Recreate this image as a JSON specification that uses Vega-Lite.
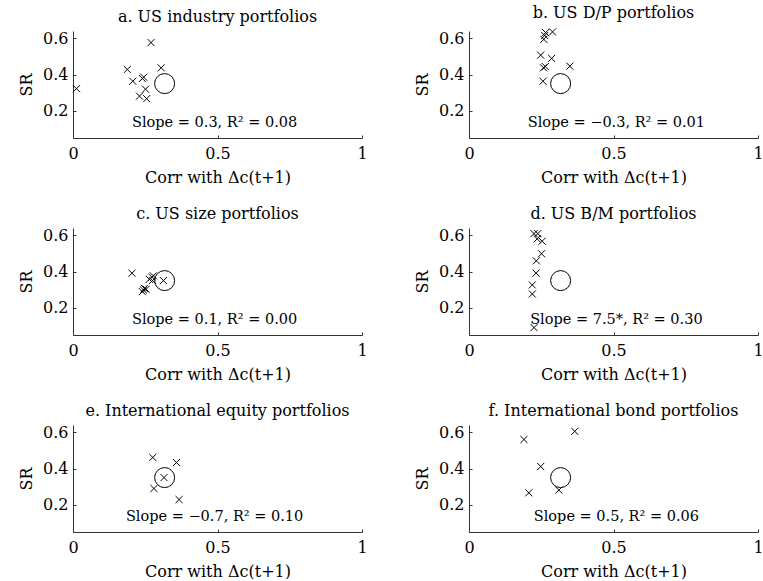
{
  "$schema": "https://vega.github.io/schema/vega-lite/v6.json",
  "background": "white",
  "padding": {"left": 18, "top": 5, "right": 0, "bottom": 0},
  "spacing": 21,
  "datasets": {
    "pts": [
      {"panel": "a", "corr": 0.012, "sr": 0.322},
      {"panel": "a", "corr": 0.270, "sr": 0.576},
      {"panel": "a", "corr": 0.188, "sr": 0.428},
      {"panel": "a", "corr": 0.207, "sr": 0.363},
      {"panel": "a", "corr": 0.240, "sr": 0.378},
      {"panel": "a", "corr": 0.245, "sr": 0.385},
      {"panel": "a", "corr": 0.305, "sr": 0.437},
      {"panel": "a", "corr": 0.251, "sr": 0.319},
      {"panel": "a", "corr": 0.230, "sr": 0.281},
      {"panel": "a", "corr": 0.255, "sr": 0.267},
      {"panel": "b", "corr": 0.265, "sr": 0.631},
      {"panel": "b", "corr": 0.289, "sr": 0.635},
      {"panel": "b", "corr": 0.262, "sr": 0.615},
      {"panel": "b", "corr": 0.259, "sr": 0.594},
      {"panel": "b", "corr": 0.248, "sr": 0.507},
      {"panel": "b", "corr": 0.286, "sr": 0.489},
      {"panel": "b", "corr": 0.258, "sr": 0.437},
      {"panel": "b", "corr": 0.264, "sr": 0.444},
      {"panel": "b", "corr": 0.349, "sr": 0.446},
      {"panel": "b", "corr": 0.256, "sr": 0.363},
      {"panel": "c", "corr": 0.204, "sr": 0.391},
      {"panel": "c", "corr": 0.240, "sr": 0.289},
      {"panel": "c", "corr": 0.244, "sr": 0.298},
      {"panel": "c", "corr": 0.247, "sr": 0.307},
      {"panel": "c", "corr": 0.253, "sr": 0.302},
      {"panel": "c", "corr": 0.264, "sr": 0.357},
      {"panel": "c", "corr": 0.273, "sr": 0.369},
      {"panel": "c", "corr": 0.278, "sr": 0.376},
      {"panel": "c", "corr": 0.275, "sr": 0.350},
      {"panel": "c", "corr": 0.313, "sr": 0.350},
      {"panel": "d", "corr": 0.225, "sr": 0.609},
      {"panel": "d", "corr": 0.238, "sr": 0.609},
      {"panel": "d", "corr": 0.236, "sr": 0.580},
      {"panel": "d", "corr": 0.253, "sr": 0.567},
      {"panel": "d", "corr": 0.251, "sr": 0.498},
      {"panel": "d", "corr": 0.233, "sr": 0.459},
      {"panel": "d", "corr": 0.232, "sr": 0.391},
      {"panel": "d", "corr": 0.219, "sr": 0.326},
      {"panel": "d", "corr": 0.219, "sr": 0.276},
      {"panel": "d", "corr": 0.225, "sr": 0.091},
      {"panel": "e", "corr": 0.276, "sr": 0.461},
      {"panel": "e", "corr": 0.358, "sr": 0.433},
      {"panel": "e", "corr": 0.315, "sr": 0.350},
      {"panel": "e", "corr": 0.280, "sr": 0.290},
      {"panel": "e", "corr": 0.367, "sr": 0.229},
      {"panel": "f", "corr": 0.190, "sr": 0.560},
      {"panel": "f", "corr": 0.366, "sr": 0.605},
      {"panel": "f", "corr": 0.248, "sr": 0.411},
      {"panel": "f", "corr": 0.207, "sr": 0.266},
      {"panel": "f", "corr": 0.311, "sr": 0.281}
    ],
    "mkt": [
      {"panel": "a", "corr": 0.317, "sr": 0.35},
      {"panel": "b", "corr": 0.317, "sr": 0.35},
      {"panel": "c", "corr": 0.317, "sr": 0.35},
      {"panel": "d", "corr": 0.317, "sr": 0.35},
      {"panel": "e", "corr": 0.317, "sr": 0.35},
      {"panel": "f", "corr": 0.317, "sr": 0.35}
    ],
    "ann": [
      {"panel": "a", "corr": 0.49, "sr": 0.13, "label": "Slope = 0.3, R² = 0.08"},
      {"panel": "b", "corr": 0.51, "sr": 0.13, "label": "Slope = −0.3, R² = 0.01"},
      {"panel": "c", "corr": 0.49, "sr": 0.13, "label": "Slope = 0.1, R² = 0.00"},
      {"panel": "d", "corr": 0.51, "sr": 0.13, "label": "Slope = 7.5*, R² = 0.30"},
      {"panel": "e", "corr": 0.49, "sr": 0.13, "label": "Slope = −0.7, R² = 0.10"},
      {"panel": "f", "corr": 0.51, "sr": 0.13, "label": "Slope = 0.5, R² = 0.06"}
    ]
  },
  "config": {
    "view": {"stroke": null},
    "font": "DejaVu Serif",
    "title": {"font": "DejaVu Serif", "fontSize": 16, "fontWeight": "normal", "color": "black", "offset": 5},
    "axis": {
      "grid": false,
      "domainColor": "#333333",
      "tickColor": "#333333",
      "tickSize": -3,
      "labelFont": "DejaVu Serif",
      "titleFont": "DejaVu Serif",
      "labelFontSize": 16,
      "titleFontSize": 16,
      "titleFontWeight": "normal",
      "labelColor": "black",
      "titleColor": "black",
      "labelFlush": false,
      "labelOverlap": false
    }
  },
  "vconcat": [
    {
      "spacing": 46,
      "hconcat": [
        {
          "title": "a. US industry portfolios", "width": 289, "height": 107,
          "layer": [
            {"data": {"name": "pts"}, "transform": [{"filter": "datum.panel === 'a'"}],
             "mark": {"type": "point", "shape": "M-1,-1L1,1M-1,1L1,-1", "filled": false, "stroke": "black", "strokeWidth": 1, "size": 50, "opacity": 1},
             "encoding": {
               "x": {"field": "corr", "type": "quantitative", "scale": {"domain": [0, 1], "nice": false}, "axis": {"values": [0, 0.5, 1], "format": "~g", "title": "Corr with Δc(t+1)", "labelPadding": 10, "titlePadding": 8}},
               "y": {"field": "sr", "type": "quantitative", "scale": {"domain": [0.05, 0.64], "nice": false, "zero": false}, "axis": {"values": [0.2, 0.4, 0.6], "format": ".1f", "title": "SR", "labelPadding": 8, "titlePadding": 8}}
             }},
            {"data": {"name": "mkt"}, "transform": [{"filter": "datum.panel === 'a'"}],
             "mark": {"type": "point", "shape": "circle", "filled": false, "stroke": "black", "strokeWidth": 1, "size": 400, "opacity": 1},
             "encoding": {"x": {"field": "corr", "type": "quantitative"}, "y": {"field": "sr", "type": "quantitative"}}},
            {"data": {"name": "ann"}, "transform": [{"filter": "datum.panel === 'a'"}],
             "mark": {"type": "text", "font": "DejaVu Serif", "fontSize": 14.5, "color": "black", "align": "center", "baseline": "middle"},
             "encoding": {"x": {"field": "corr", "type": "quantitative"}, "y": {"field": "sr", "type": "quantitative"}, "text": {"field": "label"}}}
          ]
        },
        {
          "title": "b. US D/P portfolios", "width": 289, "height": 107,
          "layer": [
            {"data": {"name": "pts"}, "transform": [{"filter": "datum.panel === 'b'"}],
             "mark": {"type": "point", "shape": "M-1,-1L1,1M-1,1L1,-1", "filled": false, "stroke": "black", "strokeWidth": 1, "size": 50, "opacity": 1},
             "encoding": {
               "x": {"field": "corr", "type": "quantitative", "scale": {"domain": [0, 1], "nice": false}, "axis": {"values": [0, 0.5, 1], "format": "~g", "title": "Corr with Δc(t+1)", "labelPadding": 10, "titlePadding": 8}},
               "y": {"field": "sr", "type": "quantitative", "scale": {"domain": [0.05, 0.64], "nice": false, "zero": false}, "axis": {"values": [0.2, 0.4, 0.6], "format": ".1f", "title": "SR", "labelPadding": 8, "titlePadding": 8}}
             }},
            {"data": {"name": "mkt"}, "transform": [{"filter": "datum.panel === 'b'"}],
             "mark": {"type": "point", "shape": "circle", "filled": false, "stroke": "black", "strokeWidth": 1, "size": 400, "opacity": 1},
             "encoding": {"x": {"field": "corr", "type": "quantitative"}, "y": {"field": "sr", "type": "quantitative"}}},
            {"data": {"name": "ann"}, "transform": [{"filter": "datum.panel === 'b'"}],
             "mark": {"type": "text", "font": "DejaVu Serif", "fontSize": 14.5, "color": "black", "align": "center", "baseline": "middle"},
             "encoding": {"x": {"field": "corr", "type": "quantitative"}, "y": {"field": "sr", "type": "quantitative"}, "text": {"field": "label"}}}
          ]
        }
      ]
    },
    {
      "spacing": 46,
      "hconcat": [
        {
          "title": "c. US size portfolios", "width": 289, "height": 107,
          "layer": [
            {"data": {"name": "pts"}, "transform": [{"filter": "datum.panel === 'c'"}],
             "mark": {"type": "point", "shape": "M-1,-1L1,1M-1,1L1,-1", "filled": false, "stroke": "black", "strokeWidth": 1, "size": 50, "opacity": 1},
             "encoding": {
               "x": {"field": "corr", "type": "quantitative", "scale": {"domain": [0, 1], "nice": false}, "axis": {"values": [0, 0.5, 1], "format": "~g", "title": "Corr with Δc(t+1)", "labelPadding": 10, "titlePadding": 8}},
               "y": {"field": "sr", "type": "quantitative", "scale": {"domain": [0.05, 0.64], "nice": false, "zero": false}, "axis": {"values": [0.2, 0.4, 0.6], "format": ".1f", "title": "SR", "labelPadding": 8, "titlePadding": 8}}
             }},
            {"data": {"name": "mkt"}, "transform": [{"filter": "datum.panel === 'c'"}],
             "mark": {"type": "point", "shape": "circle", "filled": false, "stroke": "black", "strokeWidth": 1, "size": 400, "opacity": 1},
             "encoding": {"x": {"field": "corr", "type": "quantitative"}, "y": {"field": "sr", "type": "quantitative"}}},
            {"data": {"name": "ann"}, "transform": [{"filter": "datum.panel === 'c'"}],
             "mark": {"type": "text", "font": "DejaVu Serif", "fontSize": 14.5, "color": "black", "align": "center", "baseline": "middle"},
             "encoding": {"x": {"field": "corr", "type": "quantitative"}, "y": {"field": "sr", "type": "quantitative"}, "text": {"field": "label"}}}
          ]
        },
        {
          "title": "d. US  B/M portfolios", "width": 289, "height": 107,
          "layer": [
            {"data": {"name": "pts"}, "transform": [{"filter": "datum.panel === 'd'"}],
             "mark": {"type": "point", "shape": "M-1,-1L1,1M-1,1L1,-1", "filled": false, "stroke": "black", "strokeWidth": 1, "size": 50, "opacity": 1},
             "encoding": {
               "x": {"field": "corr", "type": "quantitative", "scale": {"domain": [0, 1], "nice": false}, "axis": {"values": [0, 0.5, 1], "format": "~g", "title": "Corr with Δc(t+1)", "labelPadding": 10, "titlePadding": 8}},
               "y": {"field": "sr", "type": "quantitative", "scale": {"domain": [0.05, 0.64], "nice": false, "zero": false}, "axis": {"values": [0.2, 0.4, 0.6], "format": ".1f", "title": "SR", "labelPadding": 8, "titlePadding": 8}}
             }},
            {"data": {"name": "mkt"}, "transform": [{"filter": "datum.panel === 'd'"}],
             "mark": {"type": "point", "shape": "circle", "filled": false, "stroke": "black", "strokeWidth": 1, "size": 400, "opacity": 1},
             "encoding": {"x": {"field": "corr", "type": "quantitative"}, "y": {"field": "sr", "type": "quantitative"}}},
            {"data": {"name": "ann"}, "transform": [{"filter": "datum.panel === 'd'"}],
             "mark": {"type": "text", "font": "DejaVu Serif", "fontSize": 14.5, "color": "black", "align": "center", "baseline": "middle"},
             "encoding": {"x": {"field": "corr", "type": "quantitative"}, "y": {"field": "sr", "type": "quantitative"}, "text": {"field": "label"}}}
          ]
        }
      ]
    },
    {
      "spacing": 46,
      "hconcat": [
        {
          "title": "e. International equity portfolios", "width": 289, "height": 107,
          "layer": [
            {"data": {"name": "pts"}, "transform": [{"filter": "datum.panel === 'e'"}],
             "mark": {"type": "point", "shape": "M-1,-1L1,1M-1,1L1,-1", "filled": false, "stroke": "black", "strokeWidth": 1, "size": 50, "opacity": 1},
             "encoding": {
               "x": {"field": "corr", "type": "quantitative", "scale": {"domain": [0, 1], "nice": false}, "axis": {"values": [0, 0.5, 1], "format": "~g", "title": "Corr with Δc(t+1)", "labelPadding": 10, "titlePadding": 8}},
               "y": {"field": "sr", "type": "quantitative", "scale": {"domain": [0.05, 0.64], "nice": false, "zero": false}, "axis": {"values": [0.2, 0.4, 0.6], "format": ".1f", "title": "SR", "labelPadding": 8, "titlePadding": 8}}
             }},
            {"data": {"name": "mkt"}, "transform": [{"filter": "datum.panel === 'e'"}],
             "mark": {"type": "point", "shape": "circle", "filled": false, "stroke": "black", "strokeWidth": 1, "size": 400, "opacity": 1},
             "encoding": {"x": {"field": "corr", "type": "quantitative"}, "y": {"field": "sr", "type": "quantitative"}}},
            {"data": {"name": "ann"}, "transform": [{"filter": "datum.panel === 'e'"}],
             "mark": {"type": "text", "font": "DejaVu Serif", "fontSize": 14.5, "color": "black", "align": "center", "baseline": "middle"},
             "encoding": {"x": {"field": "corr", "type": "quantitative"}, "y": {"field": "sr", "type": "quantitative"}, "text": {"field": "label"}}}
          ]
        },
        {
          "title": "f. International bond portfolios", "width": 289, "height": 107,
          "layer": [
            {"data": {"name": "pts"}, "transform": [{"filter": "datum.panel === 'f'"}],
             "mark": {"type": "point", "shape": "M-1,-1L1,1M-1,1L1,-1", "filled": false, "stroke": "black", "strokeWidth": 1, "size": 50, "opacity": 1},
             "encoding": {
               "x": {"field": "corr", "type": "quantitative", "scale": {"domain": [0, 1], "nice": false}, "axis": {"values": [0, 0.5, 1], "format": "~g", "title": "Corr with Δc(t+1)", "labelPadding": 10, "titlePadding": 8}},
               "y": {"field": "sr", "type": "quantitative", "scale": {"domain": [0.05, 0.64], "nice": false, "zero": false}, "axis": {"values": [0.2, 0.4, 0.6], "format": ".1f", "title": "SR", "labelPadding": 8, "titlePadding": 8}}
             }},
            {"data": {"name": "mkt"}, "transform": [{"filter": "datum.panel === 'f'"}],
             "mark": {"type": "point", "shape": "circle", "filled": false, "stroke": "black", "strokeWidth": 1, "size": 400, "opacity": 1},
             "encoding": {"x": {"field": "corr", "type": "quantitative"}, "y": {"field": "sr", "type": "quantitative"}}},
            {"data": {"name": "ann"}, "transform": [{"filter": "datum.panel === 'f'"}],
             "mark": {"type": "text", "font": "DejaVu Serif", "fontSize": 14.5, "color": "black", "align": "center", "baseline": "middle"},
             "encoding": {"x": {"field": "corr", "type": "quantitative"}, "y": {"field": "sr", "type": "quantitative"}, "text": {"field": "label"}}}
          ]
        }
      ]
    }
  ]
}
